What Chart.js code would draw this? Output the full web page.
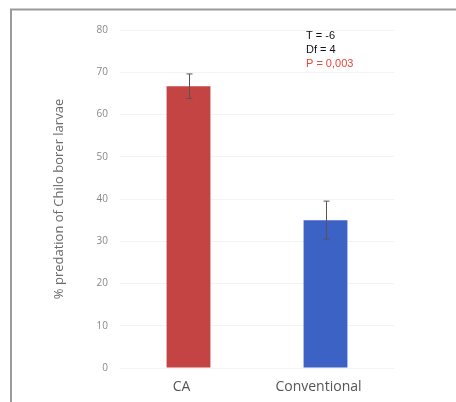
<!DOCTYPE html>
<html>
<head>
<meta charset="utf-8">
<script src="https://cdn.jsdelivr.net/npm/chart.js@4"></script>
<style>
  html, body { margin: 0; padding: 0; background: #fff; }
  #wrap { width: 456px; height: 402px; position: relative; }
</style>
</head>
<body>
<div id="wrap"><canvas id="chart" width="456" height="402"></canvas></div>
<script>
// Data
const categories = ['CA', 'Conventional'];
const predation = [66.7, 35.0];
const errUp = [2.9, 4.5];
const errDown = [2.9, 4.5];
const barColors = ['#c44444', '#3d62c6'];
const yTicks = [0, 10, 20, 30, 40, 50, 60, 70, 80];
const statLines = ['T = -6', 'Df = 4', 'P = 0,003'];

// Frame round the figure
const framePlugin = {
    id: 'frame',
    beforeDraw(chart) {
        const ctx = chart.ctx;
        ctx.save();
        ctx.strokeStyle = '#9a9a9a';
        ctx.lineWidth = 2;
        ctx.beginPath();
        ctx.moveTo(456, 9.5);
        ctx.lineTo(11, 9.5);
        ctx.lineTo(11, 402);
        ctx.stroke();
        ctx.restore();
    }
};

// Error bars and stats text
const errorBarPlugin = {
    id: 'errorBars',
    afterDatasetsDraw(chart) {
        const ctx = chart.ctx;
        const meta = chart.getDatasetMeta(0);
        const y = chart.scales.y;
        ctx.save();
        ctx.strokeStyle = '#555';
        ctx.lineWidth = 1;
        meta.data.forEach((bar, i) => {
            const x = Math.round(bar.x) + 0.5;
            const top = y.getPixelForValue(predation[i] + errUp[i]);
            const bot = y.getPixelForValue(predation[i] - errDown[i]);
            ctx.beginPath();
            ctx.moveTo(x, top);
            ctx.lineTo(x, bot);
            ctx.moveTo(x - 3, top);
            ctx.lineTo(x + 3, top);
            ctx.moveTo(x - 3, bot);
            ctx.lineTo(x + 3, bot);
            ctx.stroke();
        });

        ctx.font = '11px "Liberation Sans", Arial, sans-serif';
        ctx.textBaseline = 'middle';
        ctx.textAlign = 'left';
        statLines.forEach((t, i) => {
            ctx.fillStyle = i === 2 ? '#e8453c' : '#111';
            ctx.fillText(t, 306, 36 + i * 14);
        });
        ctx.restore();
    }
};

new Chart(document.getElementById('chart'), {
    type: 'bar',
    data: {
        labels: categories,
        datasets: [{
            data: predation,
            backgroundColor: barColors,
            borderWidth: 0,
            barPercentage: 0.64,
            categoryPercentage: 0.5
        }]
    },
    options: {
        responsive: false,
        animation: false,
        layout: { padding: { left: 51, right: 62, top: 30, bottom: 0 } },
        plugins: {
            legend: { display: false },
            tooltip: { enabled: false }
        },
        scales: {
            x: {
                grid: { display: false, drawTicks: false },
                border: { display: false },
                ticks: {
                    color: '#555',
                    font: { family: '"Open Sans", "DejaVu Sans", sans-serif', size: 14 },
                    padding: 11,
                    labelOffset: -7
                },
                afterFit(scale) { scale.height = 34; }
            },
            y: {
                min: 0,
                max: 80,
                afterBuildTicks(scale) {
                    scale.ticks = yTicks.map(v => ({ value: v }));
                },
                grid: { color: '#f3f3f3', drawTicks: false },
                border: { display: false },
                ticks: {
                    color: '#888',
                    font: { family: '"Open Sans", "DejaVu Sans", sans-serif', size: 10 },
                    padding: 12
                },
                title: {
                    display: true,
                    text: '% predation of Chilo borer larvae',
                    color: '#6a6a6a',
                    font: { family: '"Open Sans", "DejaVu Sans", sans-serif', size: 13 },
                    padding: { top: 0, bottom: 0 }
                },
                afterFit(scale) { scale.width = 69; }
            }
        }
    },
    plugins: [framePlugin, errorBarPlugin]
});
</script>
</body>
</html>
